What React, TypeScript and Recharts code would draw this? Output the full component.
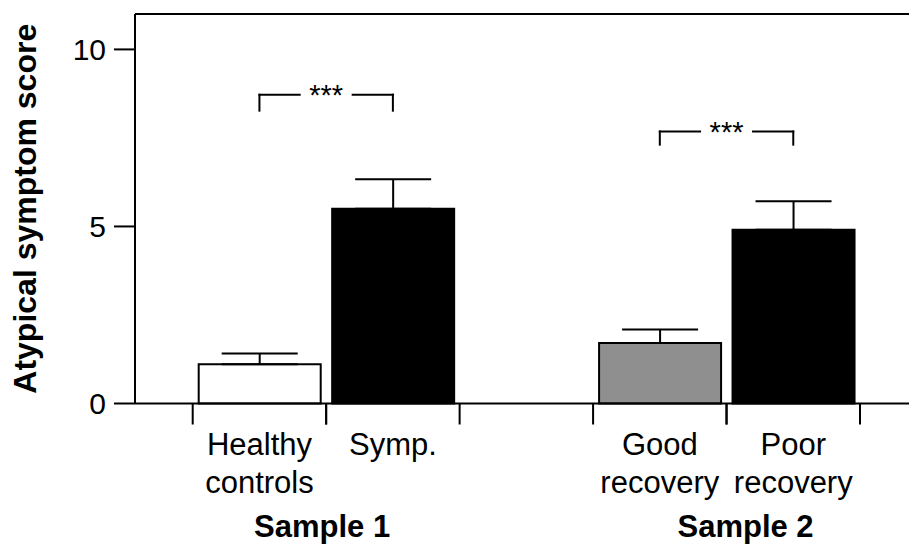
import React from "react";
import { BarChart, Bar, Cell, XAxis, YAxis, ErrorBar, ReferenceLine } from "recharts";

// bar categories (blank slot separates the two samples)
const CATEGORIES = ["Healthy controls", "Symp.", " ", "Good recovery", "Poor recovery"];
const MEANS = [1.11, 5.5, null, 1.71, 4.91];
const SEMS = [0.3, 0.83, null, 0.38, 0.8];
const Y_TICKS = [0, 5, 10];
const GROUP_LABELS = ["Sample 1", "Sample 2"];
const GROUP_FIRST = ["Healthy controls", "Good recovery"];
const BRACKETS = [
	{ from: "Healthy controls", to: "Symp.", y: 8.72, drop: 0.45, text: "***" },
	{ from: "Good recovery", to: "Poor recovery", y: 7.68, drop: 0.37, text: "***" },
];

const FILLS = ["#ffffff", "#000000", "none", "#8f8f8f", "#000000"];
const FONT = "'Liberation Sans', Arial, Helvetica, sans-serif";

const W = 930;
const H = 544;
const Y_AXIS_W = 135;
const RIGHT = 5;
const PAD_L = 57.7;
const PAD_R = 65;
const HALF_BAND = (W - RIGHT - Y_AXIS_W - PAD_L - PAD_R) / CATEGORIES.length / 2;
const GROUP_NUDGE = [-4, 19];

const data = CATEGORIES.map((name, i) => ({
	name,
	mean: MEANS[i],
	err: SEMS[i] == null ? null : [0, SEMS[i]],
}));

const CategoryTick = (props: any) => {
	const { x, y, payload } = props;
	const name: string = payload.value;
	if (!name.trim()) return null;
	const lines = name.split(" ");
	const g = GROUP_FIRST.indexOf(name);
	return (
		<g>
			<line x1={x - HALF_BAND} x2={x - HALF_BAND} y1={y} y2={y + 21} stroke="#000" strokeWidth={2} />
			<line x1={x + HALF_BAND} x2={x + HALF_BAND} y1={y} y2={y + 21} stroke="#000" strokeWidth={2} />
			{lines.map((l, i) => (
				<text key={i} x={x} y={y + 51 + i * 38.5} textAnchor="middle" fontSize={31} fontFamily={FONT} fill="#000">
					{l}
				</text>
			))}
			{g >= 0 && (
				<text
					x={x + HALF_BAND + GROUP_NUDGE[g]}
					y={y + 133.5}
					textAnchor="middle"
					fontSize={31}
					fontWeight="bold"
					fontFamily={FONT}
					fill="#000"
				>
					{GROUP_LABELS[g]}
				</text>
			)}
		</g>
	);
};

const StarsLabel = (text: string) => (props: any) => {
	const vb = props.viewBox || {};
	const cx = vb.x + vb.width / 2;
	const cy = vb.y;
	return (
		<g>
			<rect x={cx - 25.5} y={cy - 4} width={51} height={8} fill="#fff" />
			<text x={cx} y={cy + 10} textAnchor="middle" fontSize={29} fontFamily={FONT} fill="#000">
				{text}
			</text>
		</g>
	);
};

const YLabel = (props: any) => {
	const vb = props.viewBox || { y: 14, height: 390 };
	const cy = vb.y + vb.height / 2;
	return (
		<text
			x={36}
			y={cy}
			transform={`rotate(-90, 36, ${cy})`}
			textAnchor="middle"
			fontSize={32}
			fontWeight="bold"
			fontFamily={FONT}
			fill="#000"
		>
			Atypical symptom score
		</text>
	);
};

export default function App() {
	return (
		<div style={{ position: "absolute", left: 0, top: 0, width: 909, height: H, overflow: "hidden", background: "#fff" }}>
			<BarChart width={W} height={H} data={data} margin={{ top: 14, right: RIGHT, left: 0, bottom: 0 }}>
				<XAxis
					dataKey="name"
					interval={0}
					height={140.5}
					padding={{ left: PAD_L, right: PAD_R }}
					axisLine={{ stroke: "#000", strokeWidth: 2 }}
					tickLine={false}
					tickSize={0}
					tickMargin={0}
					tick={<CategoryTick />}
				/>
				<YAxis
					width={Y_AXIS_W}
					domain={[0, 11]}
					ticks={Y_TICKS}
					axisLine={{ stroke: "#000", strokeWidth: 2 }}
					tickLine={{ stroke: "#000", strokeWidth: 2 }}
					tickSize={21}
					tickMargin={8}
					tick={{ fill: "#000", fontSize: 30, fontFamily: FONT }}
					label={{ content: YLabel }}
				/>
				<ReferenceLine y={11} stroke="#000" strokeWidth={2} />
				<Bar dataKey="mean" barSize={122} stroke="#000" strokeWidth={2} isAnimationActive={false}>
					{data.map((d, i) => (
						<Cell key={d.name} fill={FILLS[i]} />
					))}
					<ErrorBar dataKey="err" width={38} stroke="#000" strokeWidth={2} direction="y" />
				</Bar>
				{BRACKETS.map((b) => (
					<ReferenceLine
						key={b.from + "h"}
						segment={[
							{ x: b.from, y: b.y },
							{ x: b.to, y: b.y },
						]}
						stroke="#000"
						strokeWidth={2}
						strokeLinecap="square"
						label={{ content: StarsLabel(b.text) }}
					/>
				))}
				{BRACKETS.flatMap((b) =>
					[b.from, b.to].map((c) => (
						<ReferenceLine
							key={c + "v"}
							segment={[
								{ x: c, y: b.y },
								{ x: c, y: b.y - b.drop },
							]}
							stroke="#000"
							strokeWidth={2}
							strokeLinecap="square"
						/>
					))
				)}
			</BarChart>
		</div>
	);
}
